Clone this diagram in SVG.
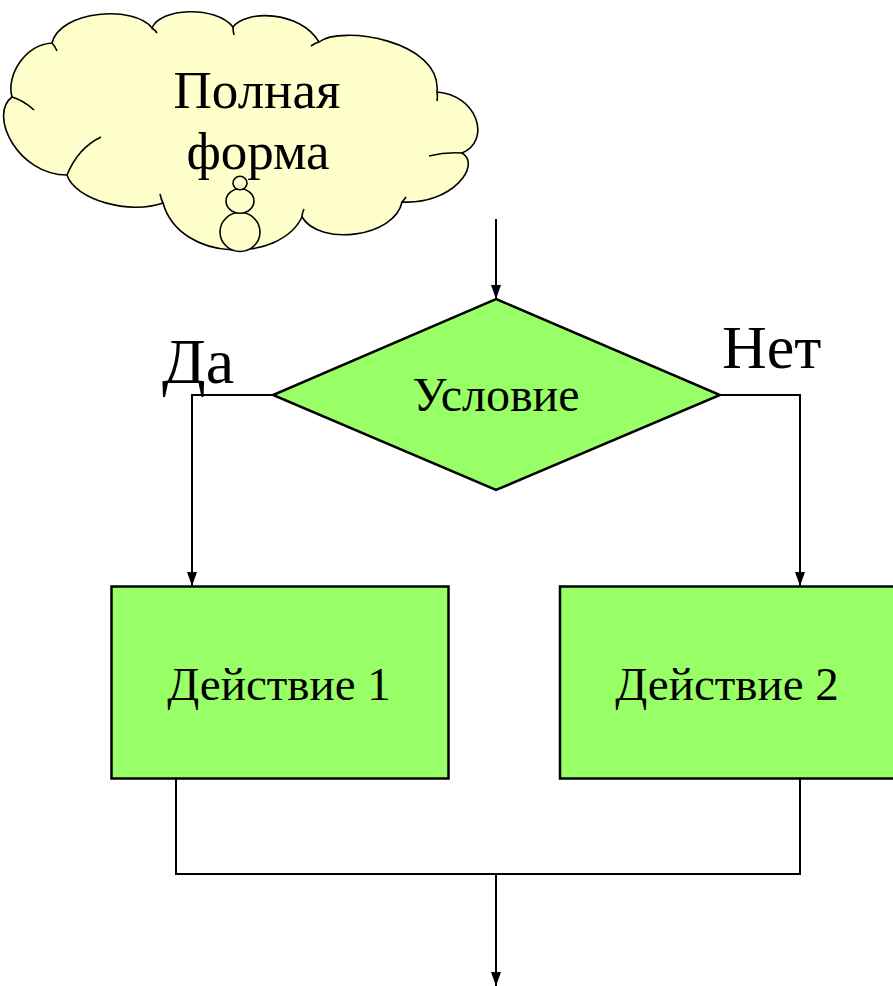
<svg xmlns="http://www.w3.org/2000/svg" width="893" height="986" viewBox="0 0 893 986">
<style>
.t{font-family:"Liberation Serif","Times New Roman",serif;fill:#000}
.shape{fill:#99FF66;stroke:#000;stroke-width:2.5}
.cloud{fill:#FFFFCC;stroke:#000;stroke-width:1.6}
.tick{fill:none;stroke:#000;stroke-width:1.6}
.ln{fill:none;stroke:#000;stroke-width:2}
</style>
<defs>
<marker id="arr" viewBox="0 0 14 10" refX="14" refY="5" markerWidth="14" markerHeight="10" markerUnits="userSpaceOnUse" orient="auto">
<path d="M0,0 L14,5 L0,10 Z" fill="#000"/>
</marker>
</defs>
<rect width="893" height="986" fill="#fff"/>
<g id="cloud">
<path class="cloud" d="M12,97 C6,75 25,45 52,43 C60,10 135,5 152,28 C160,8 215,5 233,27 C245,10 300,10 319,42 C340,25 442,40 437,92 C477,95 492,140 462,153 C482,165 452,205 402,202 C395,237 320,247 302,217 C280,263 180,263 163,203 C130,215 75,200 67,175 C18,175 -12,115 12,97 Z"/>
<path class="tick" d="M52,43 Q55,46 57,51"/>
<path class="tick" d="M152,28 Q155,30 157,33"/>
<path class="tick" d="M233,27 Q233,31 234,35"/>
<path class="tick" d="M319,42 Q315,43 311,46"/>
<path class="tick" d="M437,92 Q438,96 437,101"/>
<path class="tick" d="M462,153 Q445,152 429,156"/>
<path class="tick" d="M402,202 Q404,200 406,197"/>
<path class="tick" d="M302,217 Q302,213 304,209"/>
<path class="tick" d="M163,203 Q161,199 160,194"/>
<path class="tick" d="M67,175 Q78,148 101,137"/>
<path class="tick" d="M12,97 Q23,100 34,110"/>
<ellipse class="cloud" cx="240" cy="232" rx="20" ry="19.5"/>
<ellipse class="cloud" cx="240" cy="201" rx="14" ry="12.3"/>
<ellipse class="cloud" cx="240" cy="183" rx="7" ry="6.7"/>
<text class="t" x="257" y="108" font-size="53" text-anchor="middle">Полная</text>
<text class="t" x="258" y="169" font-size="53" text-anchor="middle">форма</text>
</g>
<g id="connectors">
<line class="ln" x1="496" y1="219" x2="496" y2="299" marker-end="url(#arr)"/>
<polyline class="ln" points="273,395 192,395 192,586" marker-end="url(#arr)"/>
<polyline class="ln" points="720,395 800,395 800,586" marker-end="url(#arr)"/>
<polyline class="ln" points="176,779 176,874 800,874 800,779"/>
<line class="ln" x1="496" y1="874" x2="496" y2="986" marker-end="url(#arr)"/>
</g>
<g id="condition">
<polygon class="shape" points="496,299 720,395 496,490 273,395"/>
<text class="t" x="496" y="411" font-size="48" text-anchor="middle">Условие</text>
</g>
<g id="labels">
<text class="t" x="162" y="383" font-size="64">Да</text>
<text class="t" x="722" y="368" font-size="62">Нет</text>
</g>
<g id="action1">
<rect class="shape" x="111.5" y="586.5" width="337" height="192"/>
<text class="t" x="279" y="700" font-size="47" text-anchor="middle">Действие 1</text>
</g>
<g id="action2">
<rect class="shape" x="560" y="586.5" width="340" height="192"/>
<text class="t" x="727" y="700" font-size="47" text-anchor="middle">Действие 2</text>
</g>
</svg>
